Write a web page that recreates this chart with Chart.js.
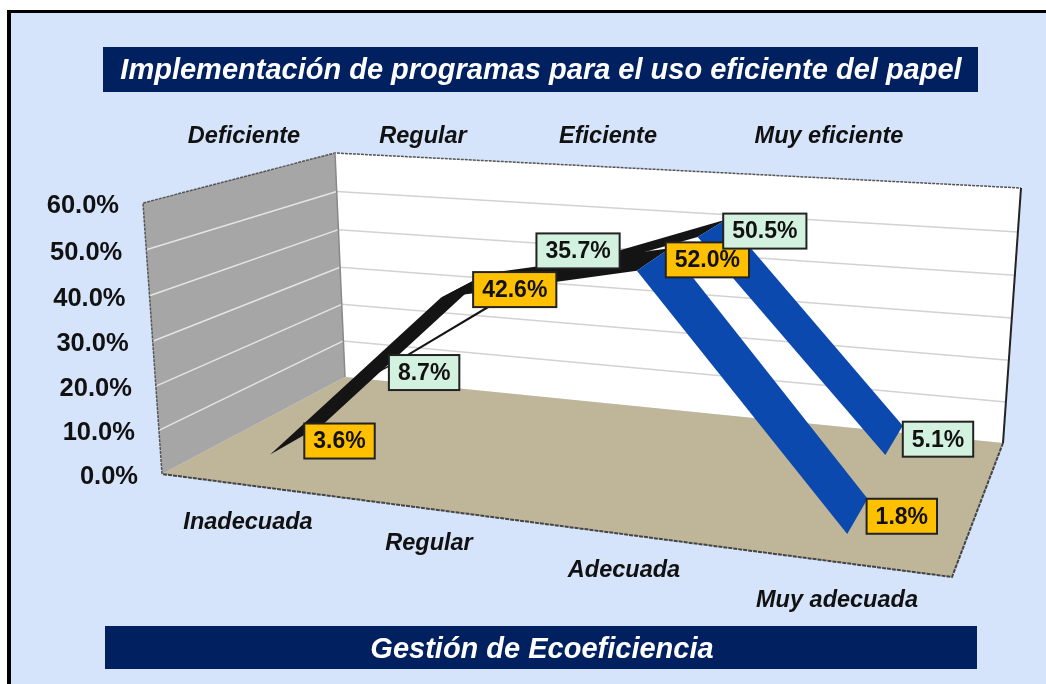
<!DOCTYPE html>
<html><head><meta charset="utf-8">
<style>html,body{margin:0;padding:0;background:#fff}canvas{display:block}</style>
<script src="https://cdn.jsdelivr.net/npm/chart.js@4"></script></head>
<body><canvas id="c" width="1046" height="684"></canvas>
<script>
// ---- data ----
const categories = ['Inadecuada','Regular','Adecuada','Muy adecuada'];
const depthLabels = ['Deficiente','Regular','Eficiente','Muy eficiente'];
const frontValues = [3.6,42.6,52.0,1.8];
const backValues  = [8.7,35.7,50.5,5.1];
const yTicks = [0,10,20,30,40,50,60];
const titleText = 'Implementación de programas para el uso eficiente del papel';
const footerText = 'Gestión de Ecoeficiencia';
// ---- layout ----
const FL=[162,474],FR=[952,577],BR=[1003,443],BL=[345,377];
const UFL=[-19,-271],UBL=[-10,-224],UBR=[18,-255],UFR=[9,-302];
const YMAX=60;
const catX=[0.125,0.375,0.625,0.875];
const frontNearZ=0.125, frontFarZ=[0.41,0.41,0.375,0.375];
const backNearZ=0.61, backFarZ=[0.875,0.875,0.875,0.875];
const frontLabelZ=0.375, backLabelZ=0.875;
const catLabelPos=[[248,523],[429,544],[624,571],[837,601]];
const depthLabelPos=[[244,136.5],[423,136.5],[608,136.5],[829,136.5]];
const frontLabelShift=[[-13,-4],[-9,-4],[-4,-6],[-1,0]];
const backLabelShift=[[-9,-7],[-17,-36],[-3,-6],[0,-4]];
// homography unit square -> floor quad
const H=(()=>{const [x0,y0]=FL,[x1,y1]=FR,[x2,y2]=BR,[x3,y3]=BL;
 const dx1=x1-x2,dx2=x3-x2,sx=x0-x1+x2-x3,dy1=y1-y2,dy2=y3-y2,sy=y0-y1+y2-y3;
 const d=dx1*dy2-dx2*dy1,g=(sx*dy2-dx2*sy)/d,h=(dx1*sy-sx*dy1)/d;
 return {a:x1-x0+g*x1,b:x3-x0+h*x3,c:x0,d:y1-y0+g*y1,e:y3-y0+h*y3,f:y0,g,h};})();
function project(u,v,z){
 const w=H.g*u+H.h*z+1, fx=(H.a*u+H.b*z+H.c)/w, fy=(H.d*u+H.e*z+H.f)/w, r=v/YMAX, t=r-0.04*r*(1-r);
 const ux=UFL[0]*(1-u)*(1-z)+UFR[0]*u*(1-z)+UBR[0]*u*z+UBL[0]*(1-u)*z;
 const uy=UFL[1]*(1-u)*(1-z)+UFR[1]*u*(1-z)+UBR[1]*u*z+UBL[1]*(1-u)*z;
 return {x:fx+ux*t,y:fy+uy*t};
}
function shape(pts,color,order){return {data:pts,showLine:true,fill:'shape',backgroundColor:color,borderColor:color,borderWidth:0,pointRadius:0,tension:0,order,clip:false};}
function stroke(pts,color,w,order,dash){return {data:pts,showLine:true,fill:false,borderColor:color,borderWidth:w,pointRadius:0,tension:0,order,clip:false,borderDash:dash||[]};}
const datasets=[];
let ord=1000;
datasets.push(shape([project(0,0,0),project(0,YMAX,0),project(0,YMAX,1),project(0,0,1)],'#A6A6A6',ord--));
datasets.push(shape([project(0,0,1),project(0,YMAX,1),project(1,YMAX,1),project(1,0,1)],'#FFFFFF',ord--));
yTicks.slice(1,-1).forEach(v=>{
 datasets.push(stroke([project(0,v,0),project(0,v,1)],'#E4E4E4',1.5,ord--));
 datasets.push(stroke([project(0,v,1),project(1,v,1)],'#D2D2D2',1.5,ord--));
});
datasets.push(shape([project(0,0,0),project(1,0,0),project(1,0,1),project(0,0,1)],'#BFB599',ord--));
// frame edges
datasets.push(stroke([project(0,0,0),project(0,YMAX,0),project(0,YMAX,1),project(1,YMAX,1)],'#555',1.5,ord--,[3,1]));
datasets.push(stroke([project(0,YMAX,1),project(0,0,1)],'#888',1.5,ord--));
datasets.push(stroke([project(1,YMAX,1),project(1,0,1)],'#222',2,ord--));
datasets.push(stroke([project(1,0,1),project(1,0,0),project(0,0,0)],'#444',2,ord--,[4,1]));
function ribbon(vals,nearZ,farZ){
 for(let i=0;i<vals.length-1;i++){
  const col=vals[i+1]<vals[i]?'#0B49AF':'#141414';
  datasets.push(shape([project(catX[i],vals[i],nearZ),project(catX[i+1],vals[i+1],nearZ),project(catX[i+1],vals[i+1],farZ[i+1]),project(catX[i],vals[i],farZ[i])],col,ord--));
 }
}
ribbon(backValues,backNearZ,backFarZ);
ribbon(frontValues,frontNearZ,frontFarZ);

const labelOrder=[['f',0],['b',0],['b',1],['f',1],['f',2],['b',2],['f',3],['b',3]];
const chrome={id:'chrome',
 beforeDraw(ch){const c=ch.ctx;c.save();c.fillStyle='#fff';c.fillRect(0,0,1046,684);
  c.fillStyle='#D6E4FB';c.fillRect(8,11,1038,673);
  c.fillStyle='#000';c.fillRect(7,10,1039,3);c.fillRect(7,10,4,674);c.restore();},
 afterDatasetsDraw(ch){
  const c=ch.ctx,sx=ch.scales.x,sy=ch.scales.y;c.save();
  const px=p=>[sx.getPixelForValue(p.x),sy.getPixelForValue(p.y)];
  // bars
  c.fillStyle='#00205F';c.fillRect(103,47,875,45);c.fillRect(105,626,872,43);
  c.textBaseline='middle';c.textAlign='center';c.fillStyle='#fff';
  c.font='italic bold 29px "Liberation Sans"';c.fillText(titleText,541,71);
  c.fillText(footerText,542,650);
  c.fillStyle='#111';c.font='italic bold 23.5px "Liberation Sans"';
  categories.forEach((t,i)=>c.fillText(t,catLabelPos[i][0],catLabelPos[i][1]));
  depthLabels.forEach((t,i)=>c.fillText(t,depthLabelPos[i][0],depthLabelPos[i][1]));
  // y ticks
  c.textAlign='right';c.font='bold 25.5px "Liberation Sans"';
  yTicks.forEach(v=>{const [x,y]=px(project(0,v,0));c.fillText(v.toFixed(1)+'%',x-24,y+3);});
  // data labels
  c.font='bold 23px "Liberation Sans"';c.textAlign='center';
  labelOrder.forEach(([s,i])=>{
   const front=s==='f',v=(front?frontValues:backValues)[i],z=front?frontLabelZ:backLabelZ;
   const sh=(front?frontLabelShift:backLabelShift)[i];
   const [px0,py0]=px(project(catX[i],v,z));const x=px0+sh[0],y=py0+sh[1];
   const t=v.toFixed(1)+'%';const w=c.measureText(t).width+18,h=35;
   c.fillStyle=front?'#FFC000':'#D3F1DF';c.strokeStyle='#222';c.lineWidth=2;
   c.fillRect(x,y,w,h);c.strokeRect(x,y,w,h);
   c.fillStyle='#111';c.fillText(t,x+w/2,y+h/2+1);
  });
  c.restore();
 }};
new Chart(document.getElementById('c'),{type:'scatter',data:{datasets},plugins:[chrome],
 options:{responsive:false,animation:false,layout:{padding:0},
  plugins:{legend:{display:false},tooltip:{enabled:false},title:{display:false}},
  scales:{x:{type:'linear',min:0,max:1046,display:false},y:{type:'linear',min:0,max:684,reverse:true,display:false}}}});
</script></body></html>
